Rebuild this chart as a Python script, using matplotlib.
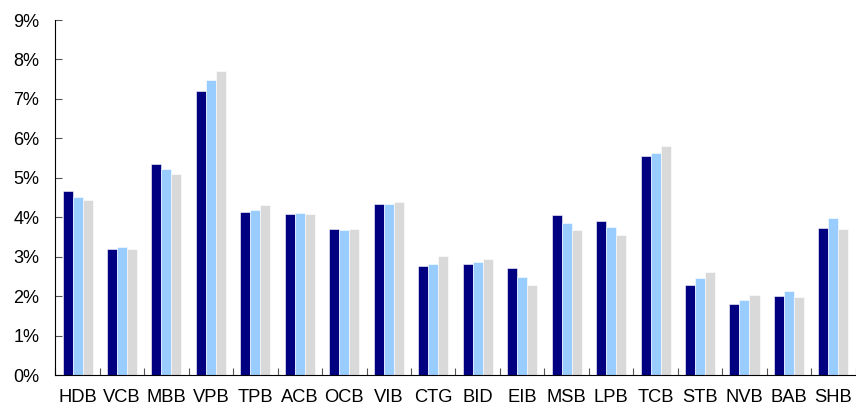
import numpy as np
import matplotlib.pyplot as plt
from matplotlib.ticker import PercentFormatter, FixedLocator

plt.rcParams['font.family'] = ['Liberation Sans', 'DejaVu Sans']

banks = ['HDB', 'VCB', 'MBB', 'VPB', 'TPB', 'ACB', 'OCB', 'VIB', 'CTG',
         'BID', 'EIB', 'MSB', 'LPB', 'TCB', 'STB', 'NVB', 'BAB', 'SHB']
series_1 = [4.66, 3.20, 5.35, 7.19, 4.13, 4.07, 3.71, 4.34, 2.77,
            2.81, 2.72, 4.05, 3.91, 5.56, 2.29, 1.81, 2.00, 3.74]
series_2 = [4.51, 3.25, 5.22, 7.47, 4.18, 4.11, 3.67, 4.34, 2.81,
            2.86, 2.49, 3.85, 3.76, 5.62, 2.47, 1.89, 2.13, 3.97]
series_3 = [4.45, 3.19, 5.09, 7.70, 4.32, 4.09, 3.69, 4.39, 3.03,
            2.93, 2.27, 3.67, 3.54, 5.80, 2.60, 2.04, 1.99, 3.69]
colors = ['#000080', '#99CCFF', '#D9D9D9']

fig = plt.figure(figsize=(8.56, 4.05), dpi=100)
ax = fig.add_axes([0.0646, 0.074, 0.935, 0.8765])

x = np.arange(len(banks))
w = 0.225
for i, (vals, c) in enumerate(zip([series_1, series_2, series_3], colors)):
    ax.bar(x + (i - 1) * w, vals, w, color=c, edgecolor='white', linewidth=0.4)

ax.set_xlim(-0.5, len(banks) - 0.5)
ax.set_ylim(0, 9)
ax.set_yticks(np.arange(0, 10, 1))
ax.yaxis.set_major_formatter(PercentFormatter(decimals=0))

# labels at category centers, tick marks between categories
ax.xaxis.set_major_locator(FixedLocator(np.arange(-0.5, len(banks), 1)))
ax.xaxis.set_minor_locator(FixedLocator(x))
ax.set_xticklabels([])
ax.set_xticklabels(banks, minor=True)
ax.tick_params(axis='x', which='major', direction='in', length=5, color='#555555')
ax.tick_params(axis='x', which='minor', length=0, labelsize=13.2, pad=10)
ax.tick_params(axis='y', direction='in', length=5, color='#555555', labelsize=13, pad=11.5)

for s in ['top', 'right']:
    ax.spines[s].set_visible(False)

plt.savefig('out.png', dpi=100)
